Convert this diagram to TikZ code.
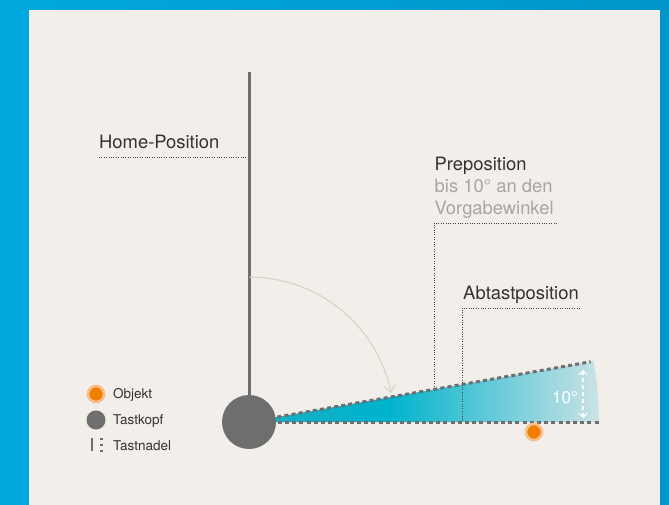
\documentclass[tikz,border=0pt]{standalone}
\usepackage{fontspec}
\setmainfont{TeX Gyre Heros}
\usetikzlibrary{arrows.meta,calc}
\definecolor{bgblue}{HTML}{00A8DD}
\definecolor{bgblueR}{HTML}{0096CA}
\definecolor{panel}{HTML}{F2EFEA}
\definecolor{probe}{HTML}{6E6E6E}
\definecolor{txt}{HTML}{333333}
\definecolor{txtgray}{HTML}{A6A6A6}
\definecolor{dotc}{HTML}{454545}
\definecolor{arcc}{HTML}{DACDC2}
\definecolor{wA}{HTML}{18AEC6}
\definecolor{wB}{HTML}{00B3CC}
\definecolor{wC}{HTML}{CBE2E5}
\definecolor{orgA}{HTML}{F7BE88}
\definecolor{orgB}{HTML}{F07F00}
\pgfdeclarehorizontalshading{wedgeshade}{100bp}{color(0bp)=(wA); color(25bp)=(wA); color(45bp)=(wB); color(75bp)=(wC); color(100bp)=(wC)}
\tikzset{
  lbl/.style={font=\fontsize{18.4}{22}\selectfont, text=txt, inner sep=0pt, anchor=base west},
  lblgray/.style={lbl, text=txtgray},
  legtxt/.style={font=\fontsize{13.5}{16}\selectfont, text=txt, inner sep=0pt, anchor=base west},
  leader/.style={draw=dotc, line width=0.8pt, dash pattern=on 1pt off 1.4pt},
  edgeline/.style={draw=probe, line width=3pt, dash pattern=on 4pt off 3.2pt},
  objdot/.style={circle, fill=orgB, draw=orgA, line width=2.6pt, minimum size=16pt, inner sep=0pt},
}
\begin{document}
\begin{tikzpicture}[x=1pt,y=-1pt]
\useasboundingbox (0,0) rectangle (669,505);
% background
\shade[left color=bgblue, right color=bgblueR] (0,0) rectangle (669,505);
\fill[panel] (29,10) rectangle (660,505);
% key coordinates
\coordinate (C) at (249,422);
\coordinate (top) at (249,72);
% wedge
\shade[shading=wedgeshade] (C) -- ++(350,0) arc[start angle=0, end angle=-10, radius=350] -- cycle;
\coordinate (bEnd) at ($(C)+(351,0)$);
\path (C) ++(-10:347) coordinate (tEnd);
% leader lines
\coordinate (hpL) at (99,157);
\coordinate (hpR) at (248,157);
\draw[leader] (hpL) -- (hpR);
\coordinate (ppR) at (557,223);
\coordinate (ppC) at (434,223);
\coordinate (ppE) at (434,389.4);
\draw[leader] (ppR) -- (ppC) -- (ppE);
\coordinate (apR) at (580,308);
\coordinate (apC) at (462,308);
\coordinate (apE) at (462,422);
\draw[leader] (apR) -- (apC) -- (apE);
% wedge edges
\draw[edgeline] (C) -- (bEnd);
\draw[edgeline] (C) -- (tEnd);
% probe needle and head
\draw[probe, line width=3pt] (top) -- (C);
\node[circle, fill=probe, minimum size=54pt, inner sep=0pt] (head) at (C) {};
% rotation arc
\coordinate (arcS) at (249,277);
\draw[arcc, line width=1pt, -{Straight Barb[length=7pt,width=12pt,line width=1pt]}] (arcS) arc[start angle=-90, end angle=-11.5, radius=145] coordinate (arcE);
% 10 degree marker
\coordinate (aT) at (583,370);
\coordinate (aB) at (583,418);
\draw[white, line width=1.3pt, dash pattern=on 4pt off 3pt, {Straight Barb[length=4pt,width=8pt,line width=1.2pt]}-{Straight Barb[length=4pt,width=8pt,line width=1.2pt]}] (aT) -- (aB);
\node[font=\fontsize{17}{20}\selectfont, text=white, inner sep=0pt, anchor=base] (deg) at (565,403) {10°};
% object
\node[objdot] (obj) at (534,432) {};
% labels
\node[lbl] (home) at (99,149) {Home-Position};
\node[lbl] (prep) at (434.5,170.7) {Preposition};
\node[lblgray] (prep2) at (434.5,192.7) {bis 10° an den};
\node[lblgray] (prep3) at (434.5,214.7) {Vorgabewinkel};
\node[lbl] (abt) at (463,299.3) {Abtastposition};
% legend
\node[objdot] (legobj) at (96,394) {};
\node[circle, fill=probe, minimum size=19pt, inner sep=0pt] (leghead) at (96,420) {};
\coordinate (n1a) at (92,438);
\coordinate (n1b) at (92,451);
\draw[probe, line width=2.4pt] (n1a) -- (n1b);
\coordinate (n2a) at (101.5,437.5);
\coordinate (n2b) at (101.5,452);
\draw[probe, line width=2.4pt, dash pattern=on 2.5pt off 3.5pt] (n2a) -- (n2b);
\node[legtxt] (lo) at (113,398.5) {Objekt};
\node[legtxt] (lk) at (113,424.5) {Tastkopf};
\node[legtxt] (ln) at (113,450) {Tastnadel};
\end{tikzpicture}
\end{document}
